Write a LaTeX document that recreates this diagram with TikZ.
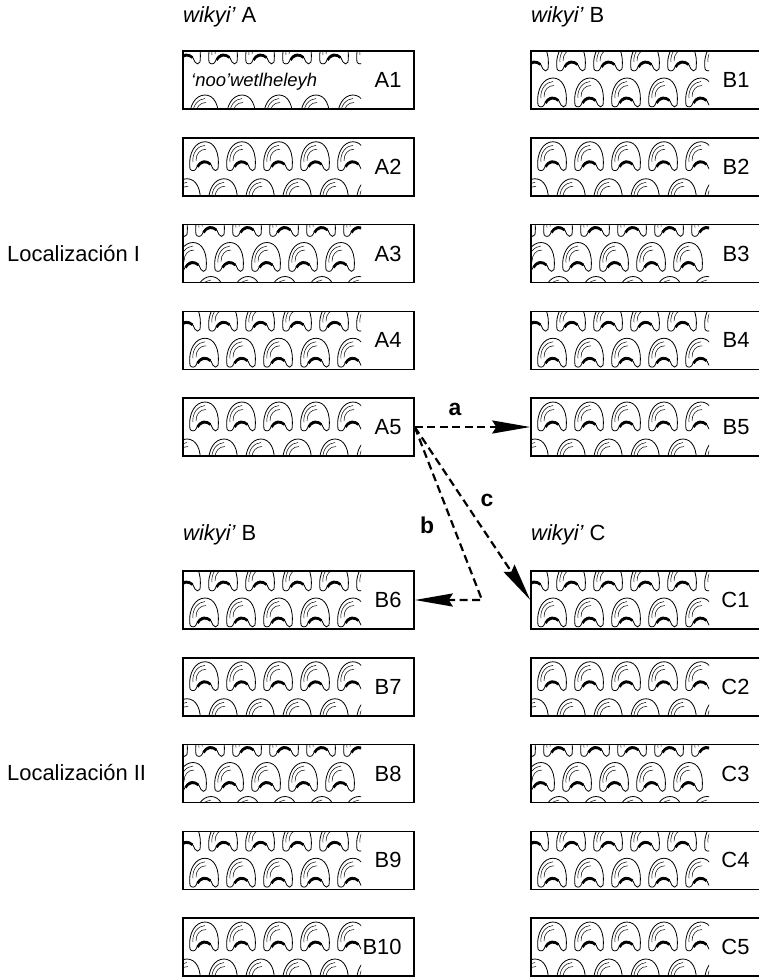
\documentclass[tikz,border=0pt]{standalone}
\usepackage{fontspec}
\setmainfont{Liberation Sans}
\usetikzlibrary{arrows.meta}

\tikzset{
  shell/.pic={
    \draw[fill=white, line width=0.8bp] (1,27) .. controls (-1,10) and (7,0) .. (16,0)
      .. controls (25,0) and (31,10) .. (29,27) .. controls (28,29.5) and (25,29.5) .. (24,27)
      .. controls (22,21) and (18,19) .. (15,19) .. controls (12,19) and (9,22) .. (7,27)
      .. controls (6,29.5) and (2,29.5) .. (1,27) -- cycle;
    \draw[line width=2.6bp] (8.5,25) .. controls (10.5,20) and (18,18.5) .. (21.5,22.5);
    \draw[line width=0.5bp] (4,20) .. controls (3,11) and (9,4) .. (16,3.5);
    \draw[line width=0.5bp] (7,19) .. controls (7,12) and (11,7.5) .. (17,7.5);
  }
}
\def\rowsO{-16/-12,44/6}
\def\rowsI{4/6,41/-12}
\def\rowsII{-17/12,18/-6,52/12}
\def\rowsIII{-9/-12,27/6}

\begin{document}
\begin{tikzpicture}[x=1bp, y=-1bp,
    txt/.style={font=\fontsize{22}{26}\selectfont},
    head/.style={txt, anchor=west, inner sep=0},
    box/.style={txt, draw, line width=1.5bp, minimum width=231bp, minimum height=58bp,
      text width=206bp, align=right, inner xsep=12.5bp, inner ysep=0},
    lett/.style={font=\fontsize{23}{26}\selectfont\bfseries},
    arr/.style={line width=2.2bp, dash pattern=on 8bp off 4.5bp,
      -{Stealth[length=38bp, width=13bp, inset=4bp]}}]
  \useasboundingbox (0,0) rectangle (759,978);
  \foreach \bx/\x/\y/\p in {A1/183/51/0, A2/183/137.75/1, A3/183/224.5/2, A4/183/311.25/3, A5/183/398/1,
      B1/531/51/3, B2/531/137.75/1, B3/531/224.5/2, B4/531/311.25/3, B5/531/398/1,
      B6/183/571/3, B7/183/657.75/1, B8/183/744.5/2, B9/183/831.25/3, B10/183/918/1,
      C1/531/571/3, C2/531/657.75/1, C3/531/744.5/2, C4/531/831.25/3, C5/531/918/1}{
    \ifcase\p \let\rows\rowsO \or \let\rows\rowsI \or \let\rows\rowsII \or \let\rows\rowsIII \fi
    \begin{scope}
      \clip (\x+0.75, \y+0.75) rectangle (\x+178, \y+57.25);
      \foreach \dy/\px in \rows {
        \foreach \k in {-1,...,5} {
          \pic at (\x+\px+37*\k, \y+\dy) {shell};
        }
      }
    \end{scope}
    \node[box] (\bx) at (\x+115.5, \y+29) {\bx};
  }
  \node[anchor=west, inner sep=0, font=\fontsize{18.5}{22}\selectfont\itshape] (nw) at (191,82) {‘noo’wetlheleyh};

  \node[head] (hA) at (183,17) {{\itshape wikyi’} A};
  \node[head] (hB) at (531,17) {{\itshape wikyi’} B};
  \node[head] (hB2) at (183,535) {{\itshape wikyi’} B};
  \node[head] (hC) at (531,535) {{\itshape wikyi’} C};
  \node[head] (loc1) at (7,254) {Localización I};
  \node[head] (loc2) at (7,773) {Localización II};

  \coordinate (bk) at (482,600);
  \draw[arr] (A5.east) -- (B5.west);
  \draw[arr] (A5.east) -- (bk) -- (B6.east);
  \draw[arr] (A5.east) -- (C1.west);
  \node[lett] (la) at (455,409) {a};
  \node[lett] (lb) at (427,525) {b};
  \node[lett] (lc) at (487,500) {c};
\end{tikzpicture}
\end{document}
